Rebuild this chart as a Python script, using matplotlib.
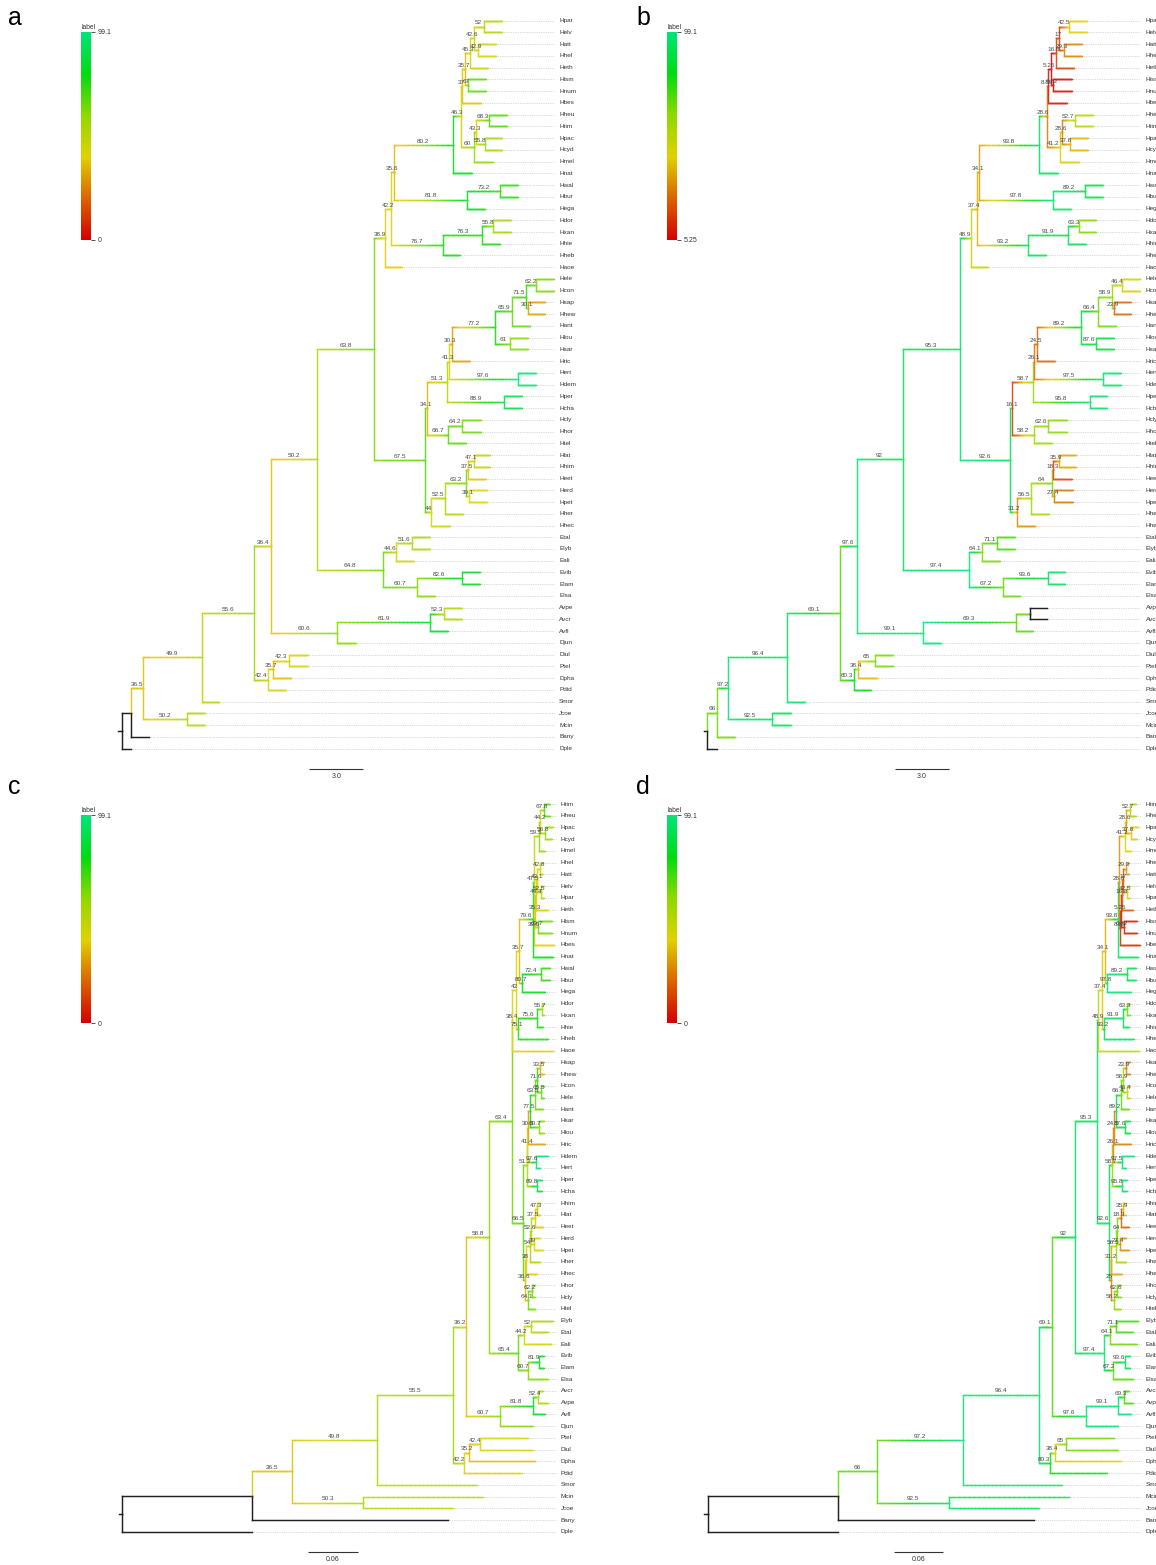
import matplotlib
matplotlib.use("Agg")
import matplotlib.pyplot as plt
from matplotlib.collections import LineCollection
from matplotlib.colors import LinearSegmentedColormap, Normalize
from matplotlib.cm import ScalarMappable
import numpy as np

W, H, DPI = 1156, 1565, 100
plt.rcParams['font.family'] = ['Liberation Sans', 'DejaVu Sans']

# ---------------------------------------------------------------- trees
# Species tree (panels a, b): branch lengths in coalescent units.
MELP = ("(((((Hpar:1.02,Helv:1.02)i01:0.54,(Hatt:0.98,Hhel:0.98)i02:0.25)i03:0.19,Heth:0.98)i04:0.28,"
        "(Hism:1.01,Hnum:1.01)i05:0.14)i06:0.17,Hbes:1.04)i07:0.07")
HEUR = "(((Hheu:1.0,Htim:1.0)i08:0.72,(Hpac:0.97,Hcyd:0.97)i09:0.46)i10:0.13,Hmel:1.06)i11:0.72"
SILV = "((" + MELP + "," + HEUR + ")i12:0.43,Hnat:1.04)i13:3.32"
WALL = "((Hwal:1.0,Hbur:1.0)i14:1.78,Hega:0.98)i15:4.11"
DORI = "(((Hdor:0.97,Hxan:0.97)i17:0.61,Hhie:0.98)i18:2.2,Hheb:0.96)i19:2.87"
HEL1 = "(((" + SILV + "," + WALL + ")i16:0.13," + DORI + ")i20:0.33,Haoe:0.96)i21:0.61"
ELEV = ("(((((Hele:1.0,Hcon:1.0)i22:0.57,(Hsap:0.97,Hhew:0.97)i23:0.1)i24:0.78,Hant:1.02)i25:0.93,"
        "(Hlou:0.98,Hsar:0.98)i26:0.83)i27:2.43,Hric:1.0)i28:0.16")
ERTA = "((" + ELEV + ",(Hert:1.0,Hdem:1.0)i29:3.84)i30:0.1,(Hper:0.98,Hcha:0.98)i31:3.18)i32:1.12"
CLYS = "((Hcly:1.06,Hhor:1.06)i33:0.78,Htel:1.02)i34:1.18"
LATI = ("(((((Hlat:0.93,Hhim:0.93)i36:0.32,Heet:1.03)i37:0.08,(Herd:1.02,Hpet:1.02)i38:0.13)i39:1.17,"
        "Hher:0.98)i40:0.78,Hhec:1.02)i41:0.36")
HEL2 = "((" + ERTA + "," + CLYS + ")i35:0.11," + LATI + ")i42:2.81"
HELI = "(" + HEL1 + "," + HEL2 + ")i43:3.17"
EUEI = "(((Etal:0.98,Elyb:0.98)i44:0.87,Eali:1.0)i45:0.71,((Evib:0.98,Elam:0.98)i46:2.5,Elsa:0.98)i47:1.86)i48:3.68"
AVDJ = "(((Avpe:0.97,Avcr:0.97)i50:0.79,Avfl:0.98)i51:5.15,Djun:1.02)i52:3.68"
DIOP = "(((Diul:1.02,Ptel:1.02)i54:0.92,Dpha:1.02)i55:0.24,Pdid:0.97)i56:0.78"
TREE_AB = ("(((((((" + HELI + "," + EUEI + ")i49:2.56," + AVDJ + ")i53:0.93," + DIOP +
           ")i57:2.92,Smor:0.98)i58:3.28,(Jcoe:1.02,Mcin:1.02)i59:2.44)i60:0.65,Bany:1.02)i61:0.52,Dple:0.52)i62;")

SUPPORT_A = {
    "i01": 52, "i02": 42.9, "i03": 42.6, "i04": 45.3, "i05": 67, "i06": 35.7, "i07": 37,
    "i08": 68.3, "i09": 55.8, "i10": 43.3, "i11": 60, "i12": 46.3, "i13": 80.2, "i14": 73.2,
    "i15": 81.8, "i16": 35.6, "i17": 55.8, "i18": 76.3, "i19": 76.7, "i20": 42.2, "i21": 38.9,
    "i22": 62.2, "i23": 30.1, "i24": 71.5, "i25": 65.9, "i26": 61, "i27": 77.2, "i28": 30.3,
    "i29": 97.6, "i30": 41.3, "i31": 88.9, "i32": 51.3, "i33": 64.2, "i34": 66.7, "i35": 34.1,
    "i36": 47.1, "i37": 37.5, "i38": 39.1, "i39": 63.2, "i40": 52.5, "i41": 44, "i42": 67.5,
    "i43": 63.8, "i44": 51.6, "i45": 44.6, "i46": 82.6, "i47": 60.7, "i48": 64.8, "i49": 50.2,
    "i50": 52.3, "i51": 81.9, "i52": 60.6, "i53": 36.4, "i54": 42.3, "i55": 35.7, "i56": 42.4,
    "i57": 55.6, "i58": 49.9, "i59": 50.2, "i60": 36.5,
}
SUPPORT_B = {
    "i01": 42.5, "i02": 29.3, "i03": 17, "i04": 16.8, "i05": 6.82, "i06": 5.25, "i07": 8.89,
    "i08": 52.7, "i09": 37.8, "i10": 28.6, "i11": 41.2, "i12": 28.6, "i13": 93.8, "i14": 89.2,
    "i15": 97.8, "i16": 34.1, "i17": 63.3, "i18": 91.9, "i19": 93.2, "i20": 37.4, "i21": 48.9,
    "i22": 46.4, "i23": 23.9, "i24": 58.9, "i25": 66.4, "i26": 87.6, "i27": 89.2, "i28": 24.5,
    "i29": 97.5, "i30": 26.1, "i31": 95.8, "i32": 58.7, "i33": 62.6, "i34": 58.2, "i35": 16.1,
    "i36": 35.9, "i37": 18.3, "i38": 27.4, "i39": 64, "i40": 56.5, "i41": 31.2, "i42": 92.6,
    "i43": 95.3, "i44": 71.1, "i45": 64.1, "i46": 93.6, "i47": 67.2, "i48": 97.4, "i49": 92,
    "i51": 69.3, "i52": 99.1, "i53": 97.6, "i54": 65, "i55": 38.4, "i56": 80.3,
    "i57": 69.1, "i58": 96.4, "i59": 92.5, "i60": 97.2, "i61": 66,
}

# Concatenated ML tree (panels c, d): branch lengths in substitutions per site.
C_ERAT = ("(((Htim:0.0068,Hheu:0.0068)j01:0.0052,(Hpac:0.0092,Hcyd:0.0080)j02:0.0060)j03:0.0008,"
          "Hmel:0.0068)j04:0.0070")
C_MELP = ("((((Hhel:0.0040,Hatt:0.0040)j05:0.0030,(Helv:0.0036,Hpar:0.0036)j06:0.0042)j07:0.0012,"
          "Heth:0.0134)j08:0.0014,(Hism:0.0164,Hnum:0.0164)j09:0.0032)j10:0.0013")
C_SILV = "(((" + C_ERAT + ",(" + C_MELP + ",Hbes:0.0238)j11:0.0008)j12:0.0010,Hnat:0.0240)j13:0.0161"
C_WALL = "((Hwal:0.0108,Hbur:0.0108)j14:0.0232,Hega:0.0280)j15:0.0029"
C_DORI = "(((Hdor:0.0031,Hxan:0.0031)j16:0.0053,Hhie:0.0072)j17:0.0228,Hheb:0.0360)j18:0.0028"
C_HEL1 = "(((" + C_SILV + "," + C_WALL + ")j19:0.0040," + C_DORI + ")j20:0.0044,Haoe:0.0492)j21:0.0007"
C_ELEV = ("(((((Hsap:0.0048,Hhew:0.0048)j22:0.0032,(Hcon:0.0036,Hele:0.0036)j23:0.0044)j24:0.0028,"
          "Hant:0.0100)j25:0.0060,(Hsar:0.0056,Hlou:0.0056)j26:0.0112)j27:0.0020,Hric:0.0200)j28:0.0012")
C_ERTA = "((" + C_ELEV + ",(Hdem:0.0148,Hert:0.0048)j29:0.0104)j30:0.0007,(Hper:0.0060,Hcha:0.0060)j31:0.0120)j32:0.0041"
C_LATI = ("(((((Hhim:0.0032,Hlat:0.0032)j33:0.0028,Heet:0.0100)j34:0.0048,(Herd:0.0072,Hpet:0.0108)j35:0.0036)j36:0.0012,"
          "Hher:0.0120)j37:0.0052,Hhec:0.0132)j38:0.0008")
C_CLYS = "((Hhor:0.0040,Hcly:0.0040)j39:0.0041,Htel:0.0080)j40:0.0040"
C_HEL2 = "(" + C_ERTA + ",(" + C_LATI + "," + C_CLYS + ")j41:0.0020)j42:0.0139"
C_HELI = "(" + C_HEL1 + "," + C_HEL2 + ")j43:0.0269"
C_EUEI = ("(((Elyb:0.0264,Etal:0.0204)j44:0.0077,Eali:0.0320)j45:0.0072,"
          "((Evib:0.0056,Elam:0.0056)j46:0.0139,Elsa:0.0240)j47:0.0113)j48:0.0348")
C_AVDJ = "(((Avcr:0.0060,Avpe:0.0113)j49:0.0067,Avfl:0.0148)j50:0.0392,Djun:0.0392)j51:0.0408"
C_DIOP = "(((Ptel:0.0580,Diul:0.0632)j52:0.0128,Dpha:0.0788)j53:0.0064,Pdid:0.0692)j54:0.0128"
TREE_CD = ("((((((" + C_HELI + "," + C_EUEI + ")j55:0.0280," + C_AVDJ + ")j56:0.0152," + C_DIOP +
           ")j57:0.0912,Smor:0.1193)j58:0.1027,(Mcin:0.1440,Jcoe:0.1080)j59:0.0859)j60:0.0473,"
           "Bany:0.2352)j61:0.1560,Dple:0.1560)j62;")

SUPPORT_C = {
    "j01": 67.8, "j02": 56.8, "j03": 44.2, "j04": 59.5, "j05": 42.8, "j06": 52.5, "j07": 43.1,
    "j08": 44.4, "j09": 63.7, "j10": 35.3, "j11": 39.5, "j12": 47.5, "j13": 79.6, "j14": 72.4,
    "j15": 80.7, "j19": 35.7, "j16": 55.7, "j17": 75.6, "j18": 75.1, "j20": 42, "j21": 38.4,
    "j22": 33.5, "j23": 65.5, "j24": 71.6, "j25": 63.5, "j26": 60.7, "j27": 77.5, "j28": 30.5,
    "j29": 97.6, "j30": 41.4, "j31": 89.8, "j32": 51.2, "j33": 47.3, "j34": 37.5, "j35": 39,
    "j36": 52.6, "j37": 54, "j38": 38, "j39": 62.2, "j40": 64.1, "j41": 36.6, "j42": 66.5,
    "j43": 63.4, "j44": 52, "j45": 44.2, "j46": 81.9, "j47": 60.7, "j48": 65.4, "j55": 58.8,
    "j49": 52.4, "j50": 81.8, "j51": 60.7, "j56": 36.2, "j52": 42.4, "j53": 35.2, "j54": 42.2,
    "j57": 55.5, "j58": 49.8, "j59": 50.3, "j60": 36.5,
}
SUPPORT_D = {
    "j01": 52.7, "j02": 37.8, "j03": 28.6, "j04": 41.2, "j05": 29.3, "j06": 42.5, "j07": 17,
    "j08": 16.8, "j09": 6.82, "j10": 5.25, "j11": 8.89, "j12": 28.6, "j13": 93.8, "j14": 89.2,
    "j15": 97.8, "j16": 63.3, "j17": 91.9, "j18": 93.2, "j19": 34.1, "j20": 37.4, "j21": 48.9,
    "j22": 23.9, "j23": 46.4, "j24": 58.9, "j25": 66.4, "j26": 87.6, "j27": 89.2, "j28": 24.5,
    "j29": 97.5, "j30": 26.1, "j31": 95.8, "j32": 58.7, "j33": 35.9, "j34": 18.3, "j35": 27.4,
    "j36": 64, "j37": 56.5, "j38": 31.2, "j39": 62.6, "j40": 58.2, "j41": 25, "j42": 92.6,
    "j43": 95.3, "j44": 71.1, "j45": 64.1, "j46": 93.6, "j47": 67.2, "j48": 97.4, "j49": 69.3,
    "j50": 99.1, "j51": 97.6, "j52": 65, "j53": 38.4, "j54": 80.3, "j55": 92, "j56": 69.1,
    "j57": 96.4, "j58": 97.2, "j59": 92.5, "j60": 66,
}

# colour scale shared by all panels
CMAP_STOPS = [(0.0, "#d40000"), (0.2, "#db6400"), (0.4, "#e0d200"),
              (0.6, "#90d800"), (0.8, "#00dc10"), (1.0, "#00e47a")]
RANGES = {"a": (0, 99.1), "b": (5.25, 99.1), "c": (0, 99.1), "d": (0, 99.1)}
SCALE_LABEL = {"a": "3.0", "b": "3.0", "c": "0.06", "d": "0.06"}
SCALE_LEN = {"a": 3.0, "b": 3.0, "c": 0.06, "d": 0.06}

cmap = LinearSegmentedColormap.from_list("support", CMAP_STOPS)


def parse_newick(text):
    text = "".join(text.split()).rstrip(";")
    pos = 0

    def node():
        nonlocal pos
        kids = []
        if text[pos] == "(":
            pos += 1
            while True:
                kids.append(node())
                if text[pos] == ",":
                    pos += 1
                    continue
                pos += 1  # ')'
                break
        start = pos
        while pos < len(text) and text[pos] not in ",():":
            pos += 1
        name = text[start:pos]
        length = 0.0
        if pos < len(text) and text[pos] == ":":
            pos += 1
            start = pos
            while pos < len(text) and text[pos] not in ",()":
                pos += 1
            length = float(text[start:pos])
        return {"name": name, "len": length, "kids": kids}

    return node()


def layout(root):
    nodes, tips = [], []

    def walk(n, parent):
        n["parent"] = parent
        n["x"] = 0.0 if parent is None else parent["x"] + n["len"]
        nodes.append(n)
        if n["kids"]:
            for k in n["kids"]:
                walk(k, n)
            n["y"] = float(np.mean([k["y"] for k in n["kids"]]))
        else:
            n["y"] = float(len(tips))
            tips.append(n)

    walk(root, None)
    return nodes, tips


fig = plt.figure(figsize=(W / DPI, H / DPI), dpi=DPI)


def px_axes(x, y, w, h):
    return fig.add_axes([x / W, 1 - (y + h) / H, w / W, h / H])


# panel geometry in pixels: box, root x, pixels per unit, first tip y, tip spacing,
# tip label column, end of leader lines, scale bar start, colour bar box, letter position
PANELS = {
    "a": dict(box=(0, 0, 578, 782), root=121.7, ppu=18.0, tip0=20.7, dy=11.74,
              lab=559.0, lead=554.0, bar=309.3, bary=769, cbar=(81, 32, 10, 208), letter=(8, 18)),
    "b": dict(box=(578, 0, 578, 782), root=707.3, ppu=18.0, tip0=20.7, dy=11.74,
              lab=1145.5, lead=1139.5, bar=895.0, bary=769, cbar=(667, 32, 10, 208), letter=(636, 18)),
    "c": dict(box=(0, 782, 578, 783), root=122.3, ppu=833.3, tip0=804.0, dy=11.74,
              lab=560.5, lead=555.5, bar=308.0, bary=1552, cbar=(81, 815, 10, 208), letter=(8, 787)),
    "d": dict(box=(578, 782, 578, 783), root=707.9, ppu=833.3, tip0=804.0, dy=11.74,
              lab=1146.0, lead=1140.5, bar=893.5, bary=1552, cbar=(667, 815, 10, 208), letter=(636, 787)),
}
TREES = {"a": (TREE_AB, SUPPORT_A), "b": (TREE_AB, SUPPORT_B),
         "c": (TREE_CD, SUPPORT_C), "d": (TREE_CD, SUPPORT_D)}

BLACK = (0.13, 0.13, 0.13, 1.0)


def draw_panel(key):
    g = PANELS[key]
    newick, support = TREES[key]
    root = parse_newick(newick)
    nodes, tips = layout(root)
    vmin, vmax = RANGES[key]
    norm = Normalize(vmin, vmax, clip=True)

    bx, by, bw, bh = g["box"]
    ax = px_axes(bx, by, bw, bh)
    ax.set_xlim((bx - g["root"]) / g["ppu"], (bx + bw - g["root"]) / g["ppu"])
    ax.set_ylim((by + bh - g["tip0"]) / g["dy"], (by - g["tip0"]) / g["dy"])
    ax.axis("off")

    def dx(px):
        return (px - g["root"]) / g["ppu"]

    def dyy(py):
        return (py - g["tip0"]) / g["dy"]

    def colour(v):
        if v is None:
            return BLACK
        r, gg, b, _ = cmap(norm(v))
        k = 0.12  # slight wash towards white, as the thin branches read lighter
        return (r + (1 - r) * k, gg + (1 - gg) * k, b + (1 - b) * k, 1.0)

    vsegs, vcols, hsegs, hcols = [], [], [], []
    for n in nodes:
        p = n["parent"]
        if p is None:
            continue
        pv, cv = support.get(p["name"]), support.get(n["name"])
        # vertical connector at the parent
        vsegs.append([(p["x"], p["y"]), (p["x"], n["y"])])
        vcols.append(colour(pv if pv is not None else cv))
        # horizontal branch, graded from parent value to child value
        v0 = pv if pv is not None else cv
        v1 = cv if cv is not None else pv
        if v0 is None:
            hsegs.append([(p["x"], n["y"]), (n["x"], n["y"])])
            hcols.append(colour(None))
        else:
            steps = 24
            xs = np.linspace(p["x"], n["x"], steps + 1)
            vs = np.linspace(v0, v1, steps)
            for i in range(steps):
                hsegs.append([(xs[i], n["y"]), (xs[i + 1], n["y"])])
                hcols.append(colour(vs[i]))
    # short root edge
    stub = 3.7 / g["ppu"]
    hsegs.append([(-stub, root["y"]), (0, root["y"])])
    hcols.append(BLACK)
    ax.add_collection(LineCollection(hsegs, colors=hcols, linewidths=1.05,
                                     capstyle="projecting", zorder=2))
    ax.add_collection(LineCollection(vsegs, colors=vcols, linewidths=1.05,
                                     capstyle="projecting", zorder=2))

    # node support labels centred on their branch
    for n in nodes:
        v = support.get(n["name"])
        if v is None or n["parent"] is None or not n["kids"]:
            continue
        xm = 0.5 * (n["parent"]["x"] + n["x"])
        ax.annotate(f"{v:g}", xy=(xm, n["y"]), xytext=(0, 0.9), textcoords="offset points",
                    ha="center", va="bottom", fontsize=4.6, color="#4a4a4a", zorder=4)

    # tip labels with dotted leaders
    lead_x, lab_x = dx(g["lead"]), dx(g["lab"])
    for t in tips:
        if t["x"] < lead_x:
            ax.plot([t["x"], lead_x], [t["y"], t["y"]], ls=(0, (1.2, 1.6)), lw=0.45,
                    color="#b4b4b4", zorder=1)
        ax.text(lab_x, t["y"], t["name"], ha="left", va="center", fontsize=4.6,
                color="#333333", clip_on=False)

    # scale bar
    x0 = dx(g["bar"])
    yb = dyy(g["bary"])
    ax.plot([x0, x0 + SCALE_LEN[key]], [yb, yb], color="#333333", lw=0.8,
            solid_capstyle="butt")
    ax.text(x0 + SCALE_LEN[key] / 2, dyy(g["bary"] + 4), SCALE_LABEL[key], ha="center",
            va="top", fontsize=5, color="#333333")

    # colour bar
    cx, cy, cw, ch = g["cbar"]
    cax = px_axes(cx, cy, cw, ch)
    cb = fig.colorbar(ScalarMappable(norm=norm, cmap=cmap), cax=cax, ticks=[vmin, vmax])
    cb.outline.set_visible(False)
    cb.ax.set_yticklabels([f"{vmin:g}", f"{vmax:g}"])
    cb.ax.tick_params(length=3, width=0.6, labelsize=5, pad=2, colors="#333333")
    cax.set_title("label", fontsize=4.8, loc="left", pad=2.5, color="#333333")

    lx, ly = g["letter"]
    fig.text(lx / W, 1 - ly / H, key, fontsize=18, ha="left", va="center")


for k in "abcd":
    draw_panel(k)

fig.savefig("out.png", dpi=DPI)
